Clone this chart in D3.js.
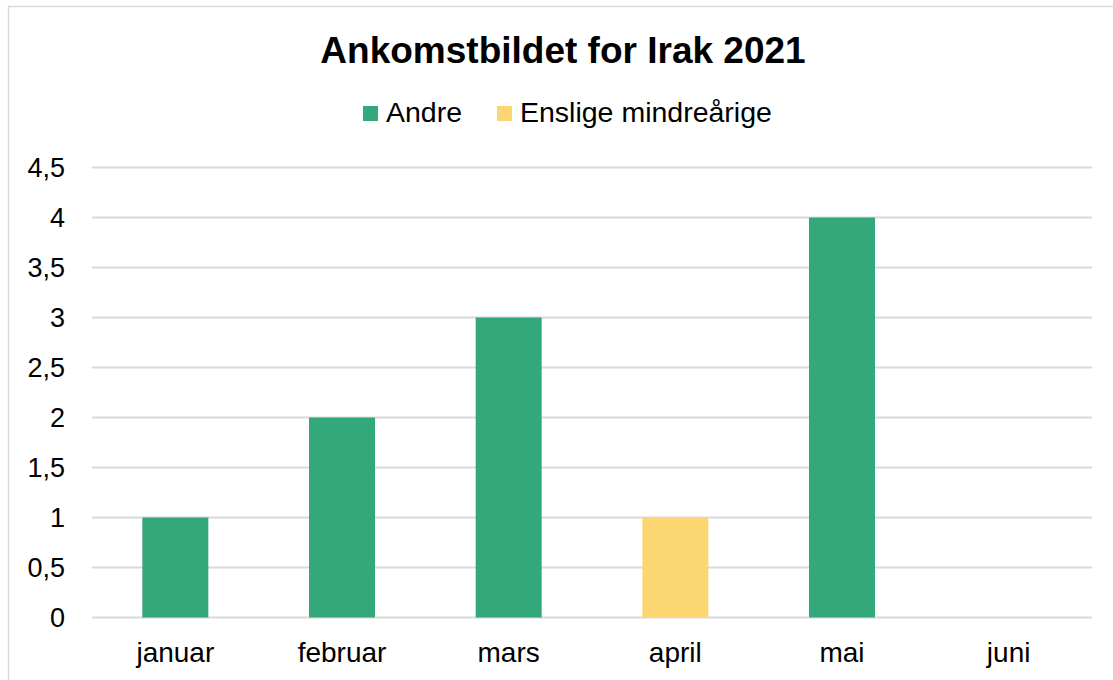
<!DOCTYPE html>
<html>
<head>
<meta charset="utf-8">
<script src="https://cdn.jsdelivr.net/npm/d3@7"></script>
<style>
  body { margin: 0; background: #fff; }
  text { font-family: "Liberation Sans", Arial, sans-serif; fill: #000; }
</style>
</head>
<body>
<svg id="chart" width="1113" height="680"></svg>
<script>
var months = ["januar", "februar", "mars", "april", "mai", "juni"];
var andre = [1, 2, 3, 0, 4, 0];
var enslige = [0, 0, 0, 1, 0, 0];
var seriesNames = ["Andre", "Enslige mindreårige"];
var seriesColors = ["#33a87a", "#fdd674"];
var yTicks = [0, 0.5, 1, 1.5, 2, 2.5, 3, 3.5, 4, 4.5];

var svg = d3.select("#chart");

// chart frame
svg.append("rect")
    .attr("x", 8.5).attr("y", 6.5)
    .attr("width", 1120).attr("height", 690)
    .attr("fill", "none")
    .attr("stroke", "#d9d9d9")
    .attr("stroke-width", 1.5);

var plotLeft = 92, plotRight = 1092, plotTop = 167.5, plotBottom = 617.5;

var x = d3.scaleBand()
    .domain(months)
    .range([plotLeft, plotRight])
    .paddingInner(0.604)
    .paddingOuter(0.302);

var y = d3.scaleLinear()
    .domain([0, 4.5])
    .range([plotBottom, plotTop]);

// gridlines
svg.append("g")
    .selectAll("line")
    .data(yTicks)
    .join("line")
    .attr("x1", plotLeft).attr("x2", plotRight)
    .attr("y1", d => y(d)).attr("y2", d => y(d))
    .attr("stroke", "#d9d9d9")
    .attr("stroke-width", 2);

// y labels
svg.append("g")
    .selectAll("text")
    .data(yTicks)
    .join("text")
    .attr("x", 65)
    .attr("y", d => y(d) + 9)
    .attr("text-anchor", "end")
    .style("font-size", "27px")
    .text(d => String(d).replace(".", ","));

// stacked bars
var rows = months.map((m, i) => ({month: m, Andre: andre[i], "Enslige mindreårige": enslige[i]}));
var stack = d3.stack().keys(seriesNames)(rows);

svg.append("g")
    .selectAll("g")
    .data(stack)
    .join("g")
    .attr("fill", (d, i) => seriesColors[i])
    .selectAll("rect")
    .data(d => d.filter(p => p[1] > p[0]))
    .join("rect")
    .attr("x", d => x(d.data.month))
    .attr("width", x.bandwidth())
    .attr("y", d => y(d[1]))
    .attr("height", d => y(d[0]) - y(d[1]));

// category labels
svg.append("g")
    .selectAll("text")
    .data(months)
    .join("text")
    .attr("x", d => x(d) + x.bandwidth() / 2)
    .attr("y", 662)
    .attr("text-anchor", "middle")
    .style("font-size", "28px")
    .text(d => d);

// title
svg.append("text")
    .attr("x", 563)
    .attr("y", 63)
    .attr("text-anchor", "middle")
    .style("font-size", "37px")
    .style("font-weight", "bold")
    .text("Ankomstbildet for Irak 2021");

// legend
var legendX = [363, 497];
var lg = svg.append("g")
    .selectAll("g")
    .data(seriesNames)
    .join("g")
    .attr("transform", (d, i) => "translate(" + legendX[i] + ",0)");
lg.append("rect")
    .attr("x", 0).attr("y", 106)
    .attr("width", 15).attr("height", 15)
    .attr("fill", (d, i) => seriesColors[i]);
lg.append("text")
    .attr("x", 23).attr("y", 122)
    .style("font-size", "28.5px")
    .text(d => d);
</script>
</body>
</html>
